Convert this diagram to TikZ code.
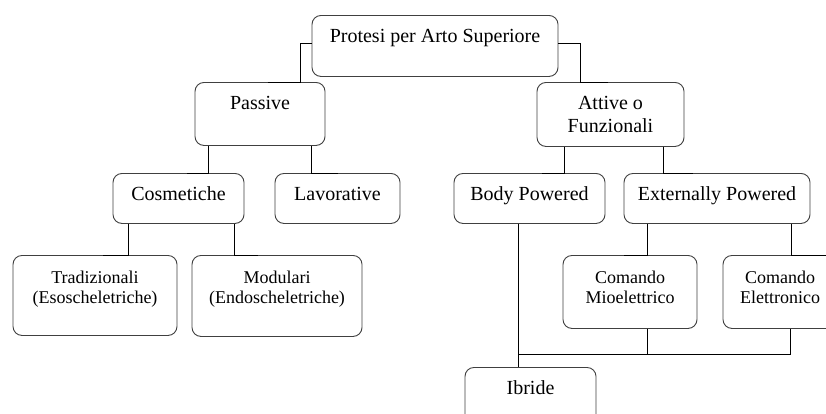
\documentclass[tikz,border=0pt]{standalone}
\usepackage{fontspec}
\setmainfont{Liberation Serif}

\begin{document}
\begin{tikzpicture}[x = 1pt, y = -1pt,
	box/.style = {draw = black!75, line width = 0.9pt, rounded corners = 9pt, fill = white,
		anchor = north, inner xsep = 2pt, inner ysep = 6pt, align = center},
	big/.style = {font = \fontsize{20}{23}\selectfont, text height = 21pt},
	small/.style = {font = \fontsize{18}{20}\selectfont, text height = 42pt},
	link/.style = {line width = 0.9pt}]

	% Page
	
	\useasboundingbox (0, 0) rectangle (826, 413);
	\clip (0, 0) rectangle (826, 413);
	
	% Top levels
	
	\node (root) [box, big, minimum width = 246, text depth = 28pt] at (435, 15) {Protesi per Arto Superiore};
	\node (passive) [box, big, minimum width = 130, text depth = 30pt] at (260, 82) {Passive};
	\node (attive) [box, big, minimum width = 147, text height = 44pt, text depth = 8pt] at (610.5, 82) {Attive o\\Funzionali};
	
	\node (cosm) [box, big, minimum width = 131, text depth = 17pt] at (178.5, 173) {Cosmetiche};
	\node (lavor) [box, big, minimum width = 125, text depth = 17pt] at (337.5, 173) {Lavorative};
	\node (body) [box, big, minimum width = 151, text depth = 17pt] at (529.5, 173) {Body Powered};
	\node (ext) [box, big, minimum width = 186, text depth = 17pt] at (717, 173) {Externally Powered};
	
	% Bottom levels
	
	\node (trad) [box, small, minimum width = 164, text depth = 26pt] at (95, 255) {Tradizionali\\(Esoscheletriche)};
	\node (modul) [box, small, minimum width = 170, text depth = 27pt] at (277, 255) {Modulari\\(Endoscheletriche)};
	\node (mio) [box, small, minimum width = 134, text depth = 19pt] at (630, 255) {Comando\\Mioelettrico};
	\node (elet) [box, small, minimum width = 114, text depth = 19pt] at (780, 255) {Comando\\Elettronico};
	
	\node (ibride) [box, big, minimum width = 131, text depth = 27pt] at (530.5, 367) {Ibride};
	
	% Connectors
	
	\draw [link] ([yshift = 2.5]root.west) -| ([xshift = 40]passive.north) -- ([xshift = 8]passive.north);
	\draw [link] ([yshift = 2.5]root.east) -| ([xshift = -30.5]attive.north) -- ([xshift = -3]attive.north);
	
	\draw [link] ([xshift = -52]passive.south) |- ([xshift = 8]cosm.north);
	\draw [link] ([xshift = 51]passive.south) |- (lavor.north);
	\draw [link] ([xshift = -46.5]attive.south) |- ([xshift = 12]body.north);
	\draw [link] ([xshift = 52.5]attive.south) |- ([xshift = -24]ext.north);
	
	\draw [link] ([xshift = -50.5]cosm.south) |- ([xshift = 8]trad.north);
	\draw [link] ([xshift = 55.5]cosm.south) |- ([xshift = -19]modul.north);
	\draw [link] ([xshift = -70]ext.south) |- ([xshift = -6]mio.north);
	\draw [link] ([xshift = 74]ext.south) |- ([xshift = 50]elet.north);
	
	% Ibride
	
	\coordinate (bus) at (518, 354);
	\draw [link] ([xshift = -11.5]body.south) -- ([xshift = -11.5]body.south |- ibride.north);
	\draw [link] ([xshift = 17]mio.south) |- (bus);
	\draw [link] ([xshift = 10]elet.south) |- (bus);
	
\end{tikzpicture}
\end{document}
